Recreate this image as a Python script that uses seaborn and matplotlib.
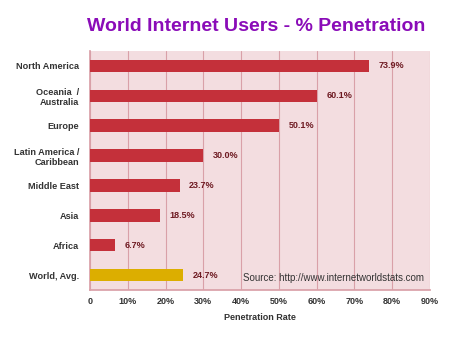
import matplotlib
matplotlib.use("Agg")
import matplotlib.pyplot as plt
import seaborn as sns
import pandas as pd

regions = ["North America", "Oceania  /\nAustralia", "Europe", "Latin America /\nCaribbean",
           "Middle East", "Asia", "Africa", "World, Avg."]
penetration = [73.9, 60.1, 50.1, 30.0, 23.7, 18.5, 6.7, 24.7]
value_labels = ["73.9%", "60.1%", "50.1%", "30.0%", "23.7%", "18.5%", "6.7%", "24.7%"]
xticks = [0, 10, 20, 30, 40, 50, 60, 70, 80, 90]
xtick_labels = ["0", "10%", "20%", "30%", "40%", "50%", "60%", "70%", "80%", "90%"]

sns.set_theme(style="white")
plt.rcParams['font.family'] = ['Liberation Sans', 'DejaVu Sans']

df = pd.DataFrame({"region": regions, "pen": penetration})
colors = ["#c4303a"] * 7 + ["#dcae00"]

fig = plt.figure(figsize=(4.5, 3.38), dpi=100)
ax = fig.add_axes([0.2, 0.142, 0.7556, 0.707])
ax.set_facecolor("#f3dde0")
sns.barplot(data=df, x="pen", y="region", hue="region", palette=colors, legend=False,
            saturation=1, width=0.42, ax=ax, zorder=3, edgecolor="none")
ax.set_xlim(0, 90)
ax.set_ylim(7.5, -0.5)
ax.set_xticks(xticks)
ax.set_xticklabels(xtick_labels, fontsize=6.5, fontweight="bold", color="#333333")
ax.set_yticks(range(len(regions)))
ax.set_yticklabels(regions, fontsize=6.6, fontweight="bold", color="#333333", linespacing=1.15)
ax.set_yticks([i + 0.5 for i in range(-1, 8)], minor=True)
ax.tick_params(axis="y", which="major", length=0, pad=8)
ax.tick_params(axis="y", which="minor", length=3, color="#d9a0a8", direction="out")
ax.tick_params(axis="x", length=3, color="#d9a0a8", direction="out", pad=2)
ax.xaxis.grid(True, color="#d9a0a8", linewidth=0.8, zorder=0)
ax.set_axisbelow(True)
for s in ["top", "right"]:
    ax.spines[s].set_visible(False)
for s in ["left", "bottom"]:
    ax.spines[s].set_color("#d9a0a8")
ax.set_xlabel("Penetration Rate", fontsize=6.5, fontweight="bold", color="#333333", labelpad=5)
ax.set_ylabel("")
for i, (v, t) in enumerate(zip(penetration, value_labels)):
    ax.text(v + 2.5, i, t, va="center", ha="left", fontsize=6.5, fontweight="bold", color="#6e1a22")
ax.text(88.5, 7.1, "Source: http://www.internetworldstats.com", ha="right", va="center",
        fontsize=7, color="#333333")
fig.text(0.57, 0.922, "World Internet Users - % Penetration", ha="center", va="center",
         fontsize=14, fontweight="bold", color="#8a0cb8")
fig.savefig("out.png", dpi=100)
